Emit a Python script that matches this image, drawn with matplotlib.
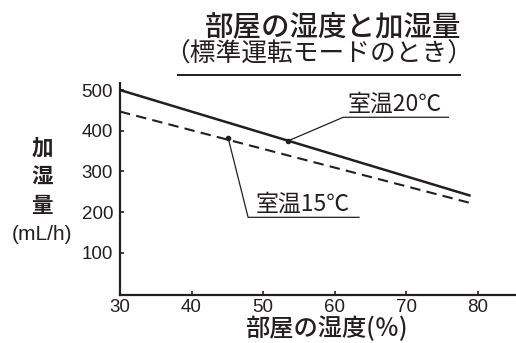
import matplotlib
matplotlib.use("Agg")
import numpy as np
from matplotlib import pyplot as plt
from matplotlib.lines import Line2D

plt.rcParams['font.family'] = ['Noto Sans CJK JP', 'DejaVu Sans']

# data
humidity = [30, 79]
amount_20 = [500, 240]
amount_15 = [447, 222]
mark_20 = (53.5, 375)
mark_15 = (45.1, 383)
xticks = [30, 40, 50, 60, 70, 80]
yticks = [100, 200, 300, 400, 500]

ink = '#231f20'
num_font = ['Liberation Sans', 'DejaVu Sans']

fig = plt.figure(figsize=(5.16, 3.43), dpi=100)
ax = fig.add_axes([120/516, 1-295/343, 395/516, (295-82.7)/343])

ax.plot(humidity, amount_20, color=ink, lw=1.8, solid_capstyle='butt')
ax.plot(humidity, amount_15, color=ink, lw=1.5, ls=(0, (5, 3)))

ax.set_xlim(30, 85.2)
ax.set_ylim(-4, 518)
ax.set_xticks(xticks)
ax.set_yticks(yticks)
ax.tick_params(direction='in', length=3, width=1.2, colors=ink, pad=3)
ax.tick_params(axis='y', pad=5)
for lab in ax.get_xticklabels() + ax.get_yticklabels():
    lab.set_family(num_font)
    lab.set_fontsize(13.5)
for s in ['top', 'right']:
    ax.spines[s].set_visible(False)
for s in ['left', 'bottom']:
    ax.spines[s].set_linewidth(1.6)
    ax.spines[s].set_color(ink)

# leader lines and labels
ax.plot(*mark_20, 'o', ms=3, color=ink)
ax.plot([mark_20[0], 61.2, 75.9], [mark_20[1], 433, 433], color=ink, lw=0.9, clip_on=False)
ax.text(68.4, 436, '室温20℃', ha='center', va='bottom', fontsize=16.5, color=ink)

ax.plot(*mark_15, 'o', ms=3, color=ink)
ax.plot([mark_15[0], 47.9, 63.4], [mark_15[1], 187, 187], color=ink, lw=0.9, clip_on=False)
ax.text(55.6, 190, '室温15℃', ha='center', va='bottom', fontsize=16.5, color=ink)

# titles
fig.text(333/516, 1-27/343, '部屋の湿度と加湿量', ha='center', va='center', fontsize=20.5,
         fontweight='medium', color=ink)
fig.text(319/516, 1-55/343, '（標準運転モードのとき）', ha='center', va='center', fontsize=18.5, color=ink)
fig.add_artist(Line2D([178/516, 460/516], [1-75/343, 1-75/343], color=ink, lw=1.4))

# axis labels
fig.text(326/516, 1-329/343, '部屋の湿度(％)', ha='center', va='center', fontsize=17.5, color=ink,
         fontweight='medium')
for ch, py in zip(['加', '湿', '量'], [148, 177, 205]):
    fig.text(42/516, 1-py/343, ch, ha='center', va='center', fontsize=15.5, fontweight='bold', color=ink)
fig.text(42/516, 1-234/343, '(mL/h)', ha='center', va='center', fontsize=15, color=ink, family=num_font)

fig.savefig('out.png', dpi=100)
